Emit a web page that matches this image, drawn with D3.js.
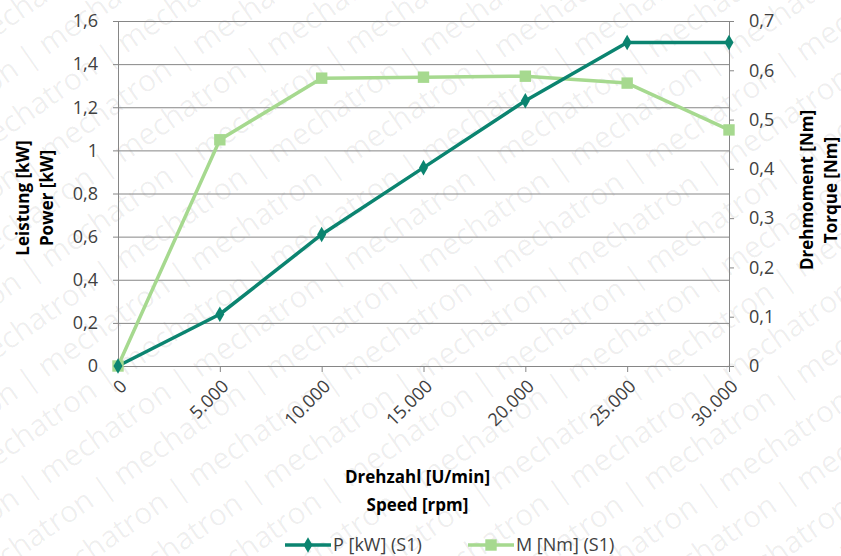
<!DOCTYPE html>
<html>
  <head>
    <title>Leistung / Drehmoment</title>
    <script src="https://d3js.org/d3.v7.min.js"></script>
    <style>
      body { margin: 0; background: #fff; }
      text { font-family: "Open Sans", "DejaVu Sans", sans-serif; }
      .axis .tick text { font-size: 18px; fill: #404040; }
      .axis .tick line { stroke: #868686; }
      .axis .domain { stroke: #868686; }
      .grid .tick line { stroke: #868686; stroke-width: 1px; }
      .grid .domain { display: none; }
      .title { font-size: 17px; font-weight: bold; fill: #000; text-anchor: middle; }
      .legend text { font-size: 18px; fill: #404040; }
      .watermark { font-size: 30px; fill: #000; fill-opacity: 0.065; }
    </style>
  </head>
  <body>
    <svg width="841" height="556"></svg>
    <script>
      // Drehzahl-Kategorien und Messwerte
      const speeds = [0, 5000, 10000, 15000, 20000, 25000, 30000];
      const power = [0, 0.24, 0.61, 0.92, 1.23, 1.5, 1.5];      // P [kW] (S1)
      const torque = [0, 0.459, 0.584, 0.586, 0.588, 0.574, 0.479]; // M [Nm] (S1)
      const leftTicks = [0, 0.2, 0.4, 0.6, 0.8, 1, 1.2, 1.4, 1.6];
      const rightTicks = [0, 0.1, 0.2, 0.3, 0.4, 0.5, 0.6, 0.7];

      const pColor = "#0b8470";
      const mColor = "#a6d98f";
      const margin = {top: 21, right: 112, bottom: 190, left: 118};

      const svg = d3.select("svg");
      const width = +svg.attr("width");
      const height = +svg.attr("height");
      const innerWidth = width - margin.left - margin.right;
      const innerHeight = height - margin.top - margin.bottom;

      const fmt = d => d3.format(",")(d).replace(/,/g, ".");
      const fmtDec = d => String(d).replace(".", ",");

      // watermark, clipped to the picture
      svg.append("clipPath").attr("id", "page")
        .append("rect").attr("width", width).attr("height", height);
      const wm = svg.append("g").attr("clip-path", "url(#page)")
        .append("g").attr("transform", "rotate(-35 420 278)");
      const wmLine = d3.range(12).map(() => "mechatron").join("  |  ");
      for (let i = -12; i <= 14; i++) {
        wm.append("text")
          .attr("class", "watermark")
          .attr("x", -500 + (i % 3) * 60)
          .attr("y", 278 + i * 44)
          .text(wmLine);
      }

      const xScale = d3.scalePoint().domain(speeds).range([0, innerWidth]);
      const yLeft = d3.scaleLinear().domain([0, 1.6]).range([innerHeight, 0]);
      const yRight = d3.scaleLinear().domain([0, 0.7]).range([innerHeight, 0]);

      const g = svg.append("g")
          .attr("transform", `translate(${margin.left}, ${margin.top})`);

      g.append("g")
          .attr("class", "grid")
          .call(d3.axisLeft(yLeft).tickValues(leftTicks).tickSize(-innerWidth).tickFormat(""));

      g.append("g")
          .attr("class", "axis")
          .call(d3.axisLeft(yLeft).tickValues(leftTicks).tickSizeInner(5).tickSizeOuter(0)
            .tickPadding(15).tickFormat(fmtDec));

      g.append("g")
          .attr("class", "axis")
          .attr("transform", `translate(${innerWidth}, 0)`)
          .call(d3.axisRight(yRight).tickValues(rightTicks).tickSizeInner(5).tickSizeOuter(0)
            .tickPadding(15).tickFormat(fmtDec));

      const xAxisG = g.append("g")
          .attr("class", "axis")
          .attr("transform", `translate(0, ${innerHeight})`)
          .call(d3.axisBottom(xScale).tickSizeInner(6).tickSizeOuter(0).tickFormat(fmt));
      xAxisG.selectAll(".tick text")
          .attr("text-anchor", "end")
          .attr("x", 0)
          .attr("y", 0)
          .attr("dy", "0.35em")
          .attr("transform", "translate(5, 17) rotate(-45)");
      xAxisG.selectAll(".tick").filter(d => d === 0).select("line").remove();

      // axis titles
      g.append("text").attr("class", "title")
          .attr("x", innerWidth / 2 - 6).attr("y", innerHeight + 117).text("Drehzahl [U/min]");
      g.append("text").attr("class", "title")
          .attr("x", innerWidth / 2 - 6).attr("y", innerHeight + 145).text("Speed [rpm]");
      g.append("text").attr("class", "title")
          .attr("transform", "rotate(-90)")
          .attr("x", -177).attr("y", -89).text("Leistung [kW]");
      g.append("text").attr("class", "title")
          .attr("transform", "rotate(-90)")
          .attr("x", -177).attr("y", -65).text("Power [kW]");
      g.append("text").attr("class", "title")
          .attr("transform", "rotate(-90)")
          .attr("x", -169).attr("y", innerWidth + 84).text("Drehmoment [Nm]");
      g.append("text").attr("class", "title")
          .attr("transform", "rotate(-90)")
          .attr("x", -169).attr("y", innerWidth + 108).text("Torque [Nm]");

      // series
      const lineP = d3.line().x((d, i) => xScale(speeds[i])).y(d => yLeft(d));
      const lineM = d3.line().x((d, i) => xScale(speeds[i])).y(d => yRight(d));

      g.append("path").datum(torque)
          .attr("fill", "none").attr("stroke", mColor).attr("stroke-width", 3.5)
          .attr("stroke-linejoin", "round").attr("d", lineM);
      g.append("path").datum(power)
          .attr("fill", "none").attr("stroke", pColor).attr("stroke-width", 3.5)
          .attr("stroke-linejoin", "round").attr("d", lineP);

      const square = d3.symbol().type(d3.symbolSquare).size(130);
      const diamond = d3.symbol().type(d3.symbolDiamond).size(70);

      g.selectAll(".m-pt").data(torque).enter().append("path")
          .attr("class", "m-pt")
          .attr("transform", (d, i) => `translate(${xScale(speeds[i])}, ${yRight(d)})`)
          .attr("d", square).attr("fill", mColor);
      g.selectAll(".p-pt").data(power).enter().append("path")
          .attr("class", "p-pt")
          .attr("transform", (d, i) => `translate(${xScale(speeds[i])}, ${yLeft(d)})`)
          .attr("d", diamond).attr("fill", pColor);

      // legend
      const legend = svg.append("g").attr("class", "legend").attr("transform", "translate(0, 545)");
      const items = [
        {label: "P [kW] (S1)", color: pColor, sym: diamond, x: 285},
        {label: "M [Nm] (S1)", color: mColor, sym: square, x: 468}
      ];
      items.forEach(it => {
        legend.append("line")
            .attr("x1", it.x).attr("x2", it.x + 46).attr("y1", 0).attr("y2", 0)
            .attr("stroke", it.color).attr("stroke-width", 3.5);
        legend.append("path")
            .attr("transform", `translate(${it.x + 23}, 0)`)
            .attr("d", it.sym).attr("fill", it.color);
        legend.append("text")
            .attr("x", it.x + 48).attr("y", 0).attr("dy", "0.35em")
            .text(it.label);
      });
    </script>
  </body>
</html>
